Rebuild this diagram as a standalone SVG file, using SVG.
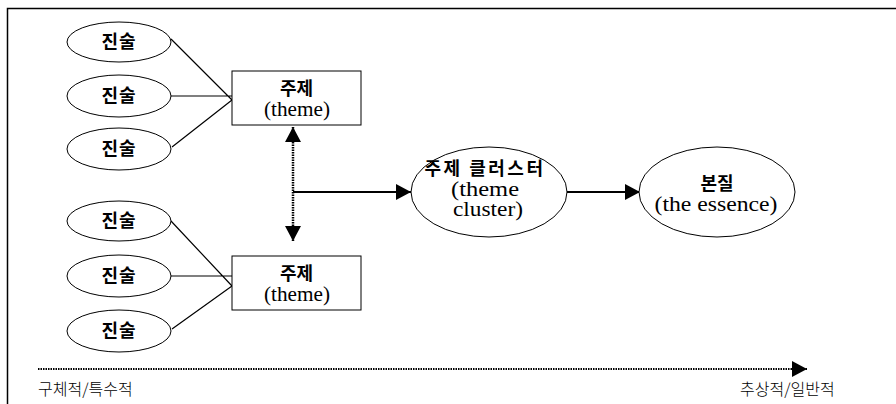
<svg xmlns="http://www.w3.org/2000/svg" width="896" height="404" viewBox="0 0 896 404">
  <style>
    .frame { fill: none; stroke: #000; stroke-width: 1.5; }
    .node { fill: #fff; stroke: #000; stroke-width: 1; }
    .link { fill: none; stroke: #000; stroke-width: 1.2; }
    .flow { fill: none; stroke: #000; stroke-width: 2.2; }
    .dots { fill: none; stroke: #000; stroke-width: 2.5; stroke-dasharray: 1.5 1; }
    .axis { fill: none; stroke: #000; stroke-width: 2; stroke-dasharray: 1.5 1; }
    .ko { font-family: "Noto Sans CJK KR", sans-serif; font-weight: 700; font-size: 18px; fill: #000; text-anchor: middle; }
    .en { font-family: "Liberation Serif", serif; font-size: 20px; fill: #000; text-anchor: middle; }
    .scale { font-family: "Noto Sans CJK KR", sans-serif; font-weight: 300; font-size: 16px; fill: #000; }
  </style>
  <defs>
    <marker id="head" markerUnits="userSpaceOnUse" markerWidth="15" markerHeight="16" refX="15" refY="8" orient="auto-start-reverse">
      <path d="M0,0 L15,8 L0,16 z" fill="#000"/>
    </marker>
  </defs>

  <rect width="896" height="404" fill="#fff"/>
  <!-- open frame: top and left edges -->
  <path class="frame" d="M7.5,404 V8.5 H896"/>

  <!-- connectors -->
  <g id="connectors">
    <path class="link" d="M171,39 L232,100 M171,96 H232 M172,147 L232,100"/>
    <path class="link" d="M171,221 L232,286 M171,276 H232 M172,329 L232,286"/>
    <path class="dots" d="M293,241 V127" marker-start="url(#head)" marker-end="url(#head)"/>
    <path class="flow" d="M293,192 H411" marker-end="url(#head)"/>
    <path class="flow" d="M567,192 H640" marker-end="url(#head)"/>
    <path class="axis" d="M38,369 H807" marker-end="url(#head)"/>
  </g>

  <!-- statements, upper group -->
  <g id="s1"><ellipse class="node" cx="119" cy="42" rx="52" ry="20"/><text class="ko" x="119" y="48" letter-spacing="1">진술</text></g>
  <g id="s2"><ellipse class="node" cx="119" cy="96" rx="52" ry="21"/><text class="ko" x="119" y="102" letter-spacing="1">진술</text></g>
  <g id="s3"><ellipse class="node" cx="119" cy="149" rx="52" ry="21"/><text class="ko" x="119" y="155" letter-spacing="1">진술</text></g>

  <!-- statements, lower group -->
  <g id="s4"><ellipse class="node" cx="119" cy="221" rx="52" ry="20"/><text class="ko" x="119" y="227" letter-spacing="1">진술</text></g>
  <g id="s5"><ellipse class="node" cx="119" cy="276" rx="52" ry="21"/><text class="ko" x="119" y="282" letter-spacing="1">진술</text></g>
  <g id="s6"><ellipse class="node" cx="119" cy="331" rx="52" ry="21"/><text class="ko" x="119" y="337" letter-spacing="1">진술</text></g>

  <!-- themes -->
  <g id="theme1">
    <rect class="node" x="232" y="71" width="129" height="54"/>
    <text class="ko" x="296.5" y="95">주제</text>
    <text class="en" x="297" y="116" textLength="66" lengthAdjust="spacingAndGlyphs">(theme)</text>
  </g>
  <g id="theme2">
    <rect class="node" x="232" y="256" width="129" height="54"/>
    <text class="ko" x="296.5" y="280">주제</text>
    <text class="en" x="297" y="301" textLength="66" lengthAdjust="spacingAndGlyphs">(theme)</text>
  </g>

  <!-- theme cluster -->
  <g id="cluster">
    <ellipse class="node" cx="489" cy="192" rx="78" ry="45"/>
    <text class="ko" x="485" y="175" letter-spacing="2.5">주제 클러스터</text>
    <text class="en" x="485" y="196" textLength="68" lengthAdjust="spacingAndGlyphs">(theme</text>
    <text class="en" x="488" y="216" textLength="70" lengthAdjust="spacingAndGlyphs">cluster)</text>
  </g>

  <!-- essence -->
  <g id="essence">
    <ellipse class="node" cx="717" cy="192" rx="78" ry="45"/>
    <text class="ko" x="717" y="190">본질</text>
    <text class="en" x="716" y="211" textLength="123" lengthAdjust="spacingAndGlyphs">(the  essence)</text>
  </g>

  <!-- abstraction scale labels -->
  <text class="scale" x="38" y="395">구체적/특수적</text>
  <text class="scale" x="740" y="395">추상적/일반적</text>
</svg>
